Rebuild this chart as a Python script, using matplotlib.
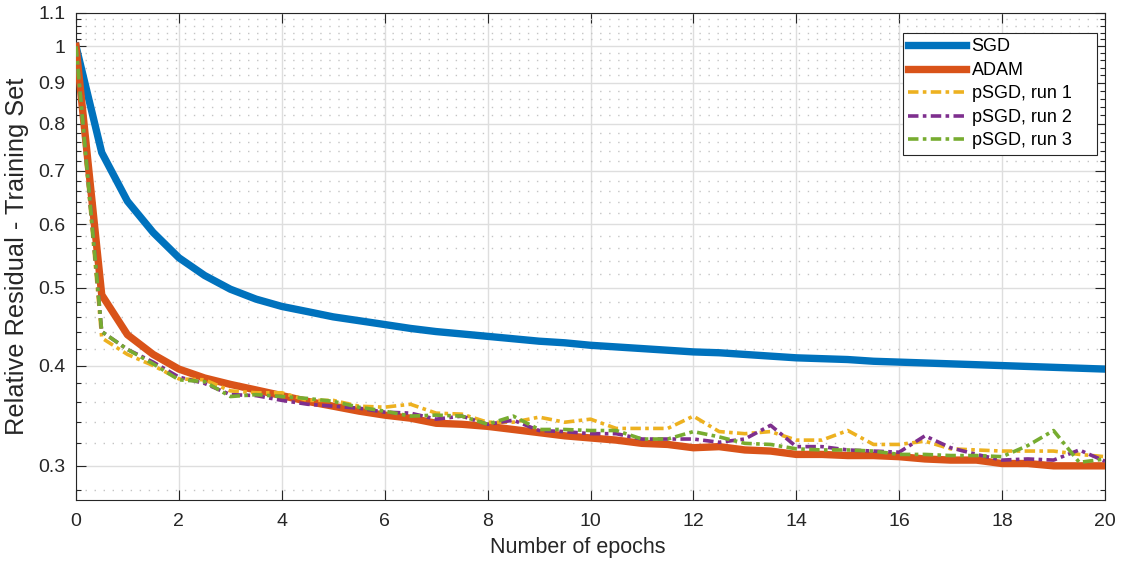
import numpy as np
import matplotlib
matplotlib.use("Agg")
import matplotlib.pyplot as plt
from matplotlib.ticker import FixedLocator, FixedFormatter, NullFormatter

# epochs, sampled every half epoch
epochs = np.arange(0, 20.5, 0.5)

sgd = [1.0, 0.737, 0.641, 0.586, 0.545, 0.518, 0.498, 0.484, 0.474, 0.467,
       0.460, 0.455, 0.450, 0.445, 0.441, 0.438, 0.435, 0.432, 0.429, 0.427,
       0.424, 0.422, 0.420, 0.418, 0.416, 0.415, 0.413, 0.411, 0.409, 0.408,
       0.407, 0.405, 0.404, 0.403, 0.402, 0.401, 0.400, 0.399, 0.398, 0.397,
       0.396]

adam = [1.0, 0.490, 0.437, 0.413, 0.396, 0.386, 0.379, 0.373, 0.367, 0.361,
        0.356, 0.351, 0.347, 0.344, 0.339, 0.338, 0.336, 0.333, 0.330, 0.327,
        0.325, 0.323, 0.320, 0.319, 0.316, 0.317, 0.314, 0.313, 0.310, 0.310,
        0.309, 0.309, 0.308, 0.306, 0.305, 0.305, 0.302, 0.302, 0.300, 0.300,
        0.300]

psgd1 = [1.0, 0.433, 0.413, 0.400, 0.385, 0.384, 0.372, 0.370, 0.370, 0.362,
         0.362, 0.356, 0.355, 0.358, 0.349, 0.348, 0.340, 0.340, 0.345, 0.340,
         0.343, 0.334, 0.334, 0.334, 0.346, 0.331, 0.329, 0.331, 0.323, 0.323,
         0.332, 0.319, 0.319, 0.322, 0.315, 0.314, 0.313, 0.313, 0.313, 0.310,
         0.308]

psgd2 = [1.0, 0.441, 0.419, 0.404, 0.387, 0.380, 0.368, 0.367, 0.362, 0.358,
         0.356, 0.354, 0.350, 0.349, 0.343, 0.346, 0.338, 0.342, 0.332, 0.331,
         0.329, 0.329, 0.324, 0.324, 0.324, 0.321, 0.324, 0.337, 0.317, 0.317,
         0.314, 0.313, 0.312, 0.327, 0.316, 0.310, 0.305, 0.306, 0.305, 0.314,
         0.304]

psgd3 = [1.0, 0.441, 0.419, 0.402, 0.384, 0.382, 0.366, 0.368, 0.366, 0.364,
         0.361, 0.355, 0.351, 0.346, 0.347, 0.346, 0.338, 0.346, 0.333, 0.333,
         0.332, 0.332, 0.324, 0.324, 0.331, 0.326, 0.320, 0.319, 0.315, 0.314,
         0.314, 0.313, 0.310, 0.310, 0.309, 0.309, 0.308, 0.318, 0.332, 0.303,
         0.306]

y_major = [0.3, 0.4, 0.5, 0.6, 0.7, 0.8, 0.9, 1.0, 1.1]
y_labels = ["0.3", "0.4", "0.5", "0.6", "0.7", "0.8", "0.9", "1", "1.1"]
x_ticks = list(range(0, 21, 2))

plt.rcParams['font.family'] = ['Liberation Sans', 'DejaVu Sans']
text_col = "#262626"

fig = plt.figure(figsize=(11.21, 5.64), dpi=100)
ax = fig.add_axes([76 / 1121, 1 - 500 / 564, 1029 / 1121, 487 / 564])

dd = (2.9, 1.2, 1.0, 1.2)
ax.plot(epochs, sgd, color="#0072BD", lw=5.3, label="SGD", zorder=3)
ax.plot(epochs, adam, color="#D95319", lw=5.3, label="ADAM", zorder=3)
ax.plot(epochs, psgd1, color="#EDB120", lw=2.6, dashes=dd, label="pSGD, run 1", zorder=4)
ax.plot(epochs, psgd2, color="#7E2F8E", lw=2.6, dashes=dd, label="pSGD, run 2", zorder=4)
ax.plot(epochs, psgd3, color="#77AC30", lw=2.6, dashes=dd, label="pSGD, run 3", zorder=4)

ax.set_yscale("log")
ax.set_xlim(0, 20)
ax.set_ylim(0.272, 1.1)

ax.yaxis.set_major_locator(FixedLocator(y_major))
ax.yaxis.set_major_formatter(FixedFormatter(y_labels))
minor = [round(v, 2) for v in np.arange(0.28, 1.1, 0.02)]
minor = [v for v in minor if all(abs(v - m) > 1e-6 for m in y_major)]
ax.yaxis.set_minor_locator(FixedLocator(minor))
ax.yaxis.set_minor_formatter(NullFormatter())
ax.set_xticks(x_ticks)

ax.grid(True, which="major", color="#dedede", lw=1.0, zorder=0)
ax.grid(True, which="minor", axis="y", color="#c4c4c4", lw=1.0, linestyle=(0, (1, 5.5)), zorder=0)
ax.set_axisbelow(True)

ax.tick_params(which="both", direction="in", top=True, right=True, colors=text_col,
               labelsize=14, width=0.8)
ax.tick_params(which="major", length=7.5)
ax.tick_params(which="minor", length=3.8)
ax.tick_params(axis="x", pad=9)
ax.tick_params(axis="y", pad=7.5)
for s in ax.spines.values():
    s.set_color(text_col)
    s.set_linewidth(0.8)

ax.set_xlabel("Number of epochs", fontsize=15.5, color=text_col)
ax.xaxis.set_label_coords(0.488, -0.077, transform=ax.transAxes)
ax.xaxis.label.set_verticalalignment("top")
ax.set_ylabel("Relative Residual - Training Set", fontsize=18.3, color=text_col, labelpad=7)

leg = ax.legend(loc="upper left", bbox_to_anchor=(0.8037, 0.0, 0.1885, 0.959),
                mode="expand", fontsize=13,
                handlelength=3.2, handletextpad=0.3, labelspacing=0.36,
                borderpad=0.3, borderaxespad=0, fancybox=False, framealpha=1)
leg.get_frame().set_edgecolor("#262626")
leg.get_frame().set_linewidth(0.8)
for t in leg.get_texts():
    t.set_color("#000000")

fig.savefig("out.png", dpi=100)
